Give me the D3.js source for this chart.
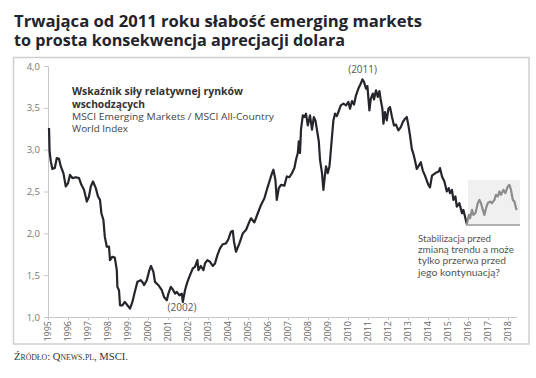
<!DOCTYPE html>
<html><head><meta charset="utf-8">
<script src="https://cdn.jsdelivr.net/npm/d3@7"></script>
<style>
html,body{margin:0;padding:0;background:#fff;}
svg{display:block;}
</style></head>
<body>
<svg id="chart" width="536" height="378"></svg>
<script>
// ---- data ----
const titleLines = ["Trwająca od 2011 roku słabość emerging markets", "to prosta konsekwencja aprecjacji dolara"];
const legendBold = ["Wskaźnik siły relatywnej rynków", "wschodzących"];
const legendNormal = ["MSCI Emerging Markets / MSCI All-Country", "World Index"];
const noteLines = ["Stabilizacja przed", "zmianą trendu a może", "tylko przerwa przed", "jego kontynuacją?"];
const sourceText = "Źródło: Qnews.pl, MSCI.";
const yTicks = [1.0, 1.5, 2.0, 2.5, 3.0, 3.5, 4.0];
const xTicks = d3.range(1995, 2019);
const peakLabels = [{t: 2010.73, v: 3.84, label: "(2011)"}, {t: 2001.7, v: 1.12, label: "(2002)"}];

const mainDates = [1995.05,1995.08,1995.14,1995.22,1995.34,1995.44,1995.55,1995.64,1995.77,1995.89,1996.00,1996.10,1996.22,1996.39,1996.55,1996.67,1996.80,1996.94,1997.05,1997.14,1997.25,1997.39,1997.50,1997.60,1997.67,1997.77,1997.84,1997.94,1998.05,1998.10,1998.22,1998.34,1998.44,1998.47,1998.55,1998.60,1998.72,1998.84,1998.97,1999.10,1999.22,1999.34,1999.47,1999.64,1999.77,1999.80,1999.94,2000.07,2000.15,2000.27,2000.35,2000.52,2000.69,2000.80,2000.94,2001.02,2001.14,2001.24,2001.35,2001.44,2001.57,2001.69,2001.74,2001.85,2001.97,2002.10,2002.24,2002.35,2002.47,2002.52,2002.64,2002.77,2002.85,2002.97,2003.10,2003.24,2003.35,2003.47,2003.60,2003.74,2003.90,2004.02,2004.15,2004.24,2004.30,2004.40,2004.57,2004.74,2004.90,2005.07,2005.15,2005.32,2005.49,2005.65,2005.82,2005.94,2006.07,2006.20,2006.27,2006.37,2006.44,2006.54,2006.65,2006.82,2006.94,2007.07,2007.20,2007.32,2007.40,2007.49,2007.54,2007.60,2007.65,2007.74,2007.82,2007.90,2007.99,2008.10,2008.20,2008.29,2008.37,2008.44,2008.54,2008.60,2008.70,2008.77,2008.84,2008.90,2008.99,2009.07,2009.10,2009.19,2009.27,2009.35,2009.44,2009.52,2009.64,2009.77,2009.90,2010.02,2010.10,2010.20,2010.30,2010.40,2010.52,2010.64,2010.72,2010.80,2010.90,2010.97,2011.07,2011.14,2011.24,2011.30,2011.40,2011.49,2011.57,2011.64,2011.72,2011.77,2011.85,2011.94,2012.02,2012.10,2012.20,2012.30,2012.40,2012.52,2012.64,2012.74,2012.85,2012.94,2013.02,2013.10,2013.19,2013.27,2013.35,2013.44,2013.52,2013.64,2013.74,2013.85,2013.94,2014.02,2014.10,2014.20,2014.37,2014.54,2014.60,2014.70,2014.82,2014.94,2015.04,2015.10,2015.20,2015.27,2015.37,2015.44,2015.57,2015.70,2015.77,2015.87,2015.94];
const mainValues = [3.26,2.98,2.86,2.77,2.78,2.90,2.89,2.80,2.72,2.56,2.60,2.70,2.66,2.67,2.66,2.58,2.52,2.38,2.44,2.56,2.62,2.54,2.44,2.40,2.24,2.16,1.96,1.84,1.84,1.68,1.72,1.71,1.56,1.36,1.32,1.14,1.14,1.18,1.14,1.10,1.18,1.30,1.42,1.44,1.40,1.38,1.44,1.56,1.61,1.54,1.42,1.38,1.32,1.24,1.20,1.28,1.36,1.33,1.28,1.30,1.26,1.28,1.18,1.32,1.42,1.50,1.58,1.60,1.68,1.56,1.61,1.56,1.64,1.68,1.66,1.61,1.64,1.74,1.82,1.87,1.88,1.93,2.02,2.03,1.90,1.78,1.88,2.00,2.04,2.14,2.18,2.13,2.24,2.34,2.42,2.52,2.62,2.72,2.76,2.64,2.40,2.54,2.58,2.57,2.68,2.67,2.72,2.78,2.88,2.96,3.10,2.96,3.24,3.41,3.39,3.43,3.29,3.41,3.24,3.39,3.35,3.25,3.10,2.88,2.72,2.52,2.68,2.80,2.72,2.80,2.87,3.13,3.35,3.43,3.40,3.45,3.53,3.55,3.53,3.57,3.49,3.58,3.54,3.65,3.73,3.79,3.84,3.81,3.73,3.76,3.47,3.61,3.67,3.60,3.71,3.63,3.70,3.59,3.49,3.31,3.45,3.35,3.49,3.51,3.39,3.29,3.30,3.23,3.27,3.33,3.37,3.39,3.29,3.17,3.01,2.95,2.87,2.77,2.80,2.85,2.75,2.69,2.63,2.58,2.55,2.69,2.72,2.74,2.78,2.68,2.62,2.50,2.54,2.48,2.52,2.40,2.44,2.32,2.36,2.24,2.28,2.18,2.11];

const recentDates = [2015.94,2016.04,2016.10,2016.20,2016.27,2016.37,2016.49,2016.57,2016.65,2016.74,2016.82,2016.90,2016.99,2017.10,2017.20,2017.32,2017.40,2017.49,2017.57,2017.65,2017.77,2017.87,2017.99,2018.07,2018.15,2018.24,2018.32,2018.40,2018.44];
const recentValues = [2.11,2.22,2.18,2.28,2.22,2.24,2.36,2.40,2.36,2.28,2.22,2.30,2.36,2.38,2.36,2.40,2.46,2.44,2.50,2.46,2.52,2.48,2.56,2.58,2.52,2.40,2.38,2.30,2.28];

const boxRange = {t0: 2016.0, t1: 2018.6, v0: 2.10, v1: 2.64};
const baseRange = {t0: 2015.9, t1: 2018.6, v: 2.10};

// ---- drawing ----
const svg = d3.select("#chart");
const x = d3.scaleLinear().domain([1995, 2018]).range([48, 508]);
const y = d3.scaleLinear().domain([1, 4]).range([317, 66]);

// title
svg.selectAll("text.title").data(titleLines).join("text")
  .attr("class", "title")
  .attr("x", 14).attr("y", (d, i) => 26.5 + i * 19)
  .attr("font-family", "'Open Sans', sans-serif").attr("font-weight", 700)
  .attr("font-size", 16).attr("fill", "#23232b")
  .attr("textLength", (d, i) => i === 0 ? 408 : 331)
  .attr("lengthAdjust", "spacingAndGlyphs")
  .text(d => d);

// frame
svg.append("rect").attr("x", 13.5).attr("y", 57.5).attr("width", 515.5).attr("height", 286.5)
  .attr("fill", "none").attr("stroke", "#cfcfcf").attr("stroke-width", 1.5);

// annotation box
svg.append("rect")
  .attr("x", x(boxRange.t0)).attr("y", y(boxRange.v1))
  .attr("width", x(boxRange.t1) - x(boxRange.t0)).attr("height", y(boxRange.v0) - y(boxRange.v1))
  .attr("fill", "#f0f0f0");
svg.append("line")
  .attr("x1", x(baseRange.t0)).attr("x2", x(baseRange.t1))
  .attr("y1", y(baseRange.v)).attr("y2", y(baseRange.v))
  .attr("stroke", "#9a9a9a").attr("stroke-width", 1.5);

// axes
const yAxis = d3.axisLeft(y).tickValues(yTicks).tickFormat(d => d3.format(".1f")(d).replace(".", ",")).tickSize(4).tickPadding(4);
const gy = svg.append("g").attr("transform", `translate(${x.range()[0]},0)`).call(yAxis);
gy.select(".domain").attr("stroke", "#c8c8c8");
gy.selectAll(".tick line").attr("stroke", "#c8c8c8");
gy.selectAll(".tick text").attr("font-family", "'Open Sans', sans-serif").attr("font-size", 9.5).attr("fill", "#777");

const xAxis = d3.axisBottom(x).tickValues(xTicks).tickFormat(d3.format("d")).tickSize(3).tickSizeOuter(0);
const gx = svg.append("g").attr("transform", `translate(0,${y(1)})`).call(xAxis);
gx.select(".domain").attr("stroke", "#c8c8c8").attr("d", `M${x(1995)},0.5H${x(2018.45)}`);
gx.selectAll(".tick line").attr("stroke", "#c8c8c8");
gx.selectAll(".tick text")
  .attr("font-family", "'Open Sans', sans-serif").attr("font-size", 9).attr("fill", "#666")
  .attr("text-anchor", "end").attr("transform", "rotate(-90)")
  .attr("x", -4).attr("y", 0).attr("dy", "0.33em");

// lines
const line = d3.line().x(d => x(d[0])).y(d => y(d[1]));
svg.append("path").datum(d3.zip(mainDates, mainValues))
  .attr("d", line).attr("fill", "none").attr("stroke", "#25252b").attr("stroke-width", 2.2)
  .attr("stroke-linejoin", "round");
svg.append("path").datum(d3.zip(recentDates, recentValues))
  .attr("d", line).attr("fill", "none").attr("stroke", "#8c8c8c").attr("stroke-width", 2.2)
  .attr("stroke-linejoin", "round");

// peak labels
svg.selectAll("text.peak").data(peakLabels).join("text")
  .attr("class", "peak")
  .attr("x", d => x(d.t)).attr("y", (d, i) => i === 0 ? y(d.v) - 6 : y(d.v) + 4)
  .attr("text-anchor", "middle")
  .attr("font-family", "'Open Sans', sans-serif").attr("font-size", 10).attr("fill", "#555")
  .text(d => d.label);

// legend
const legendWidthsBold = [171, 73];
const legendWidthsNormal = [202, 56];
svg.selectAll("text.lb").data(legendBold).join("text")
  .attr("class", "lb").attr("x", 72).attr("y", (d, i) => 95 + i * 13)
  .attr("font-family", "'Open Sans', sans-serif").attr("font-weight", 700).attr("font-size", 10)
  .attr("fill", "#333")
  .attr("textLength", (d, i) => legendWidthsBold[i]).attr("lengthAdjust", "spacingAndGlyphs")
  .text(d => d);
svg.selectAll("text.ln").data(legendNormal).join("text")
  .attr("class", "ln").attr("x", 72).attr("y", (d, i) => 120 + i * 12)
  .attr("font-family", "'Open Sans', sans-serif").attr("font-size", 9.5)
  .attr("fill", "#444")
  .attr("textLength", (d, i) => legendWidthsNormal[i]).attr("lengthAdjust", "spacingAndGlyphs")
  .text(d => d);

// note
const noteWidths = [73, 96, 88, 82];
svg.selectAll("text.note").data(noteLines).join("text")
  .attr("class", "note").attr("x", 418).attr("y", (d, i) => 242 + i * 11.2)
  .attr("font-family", "Lato, sans-serif").attr("font-size", 10)
  .attr("fill", "#555")
  .attr("textLength", (d, i) => noteWidths[i]).attr("lengthAdjust", "spacingAndGlyphs")
  .text(d => d);

// source
svg.append("text").attr("x", 14).attr("y", 359.5)
  .attr("font-family", "'Liberation Serif', 'DejaVu Serif', serif").attr("font-size", 11)
  .attr("font-variant", "small-caps").attr("fill", "#333")
  .attr("textLength", 114).attr("lengthAdjust", "spacingAndGlyphs")
  .text(sourceText);
</script>
</body></html>
